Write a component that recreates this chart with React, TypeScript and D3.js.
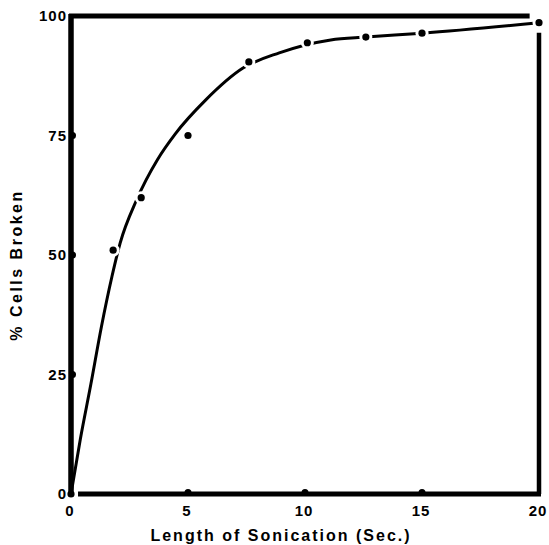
import React from "react";
import * as d3 from "d3";

const pointX = [0, 1.8, 3.0, 5.0, 7.6, 10.1, 12.6, 15.0, 20];
const pointY = [0, 51, 62, 75, 90.4, 94.4, 95.6, 96.4, 98.6];

const curveX = [0, 0.4, 0.85, 1.3, 1.75, 2.1, 2.8, 3.7, 4.45, 5.75, 7.35, 8.9, 11.1, 12.6, 15.0, 20];
const curveY = [0, 11.5, 23, 35, 45.5, 52.5, 61.5, 70, 75.3, 82.4, 89.1, 92.3, 95, 95.6, 96.4, 98.6];

const xTicks = [0, 5, 10, 15, 20];
const yTicks = [0, 25, 50, 75, 100];
const xTitle = "Length of Sonication  (Sec.)";
const yTitle = "%  Cells Broken";

const W = 549;
const H = 545;

export default function App() {
  const x = d3.scaleLinear().domain([0, 20]).range([71, 539]);
  const y = d3.scaleLinear().domain([0, 100]).range([494, 16]);
  const line = d3
    .line<number>()
    .x((_, i) => x(curveX[i]))
    .y((_, i) => y(curveY[i]))
    .curve(d3.curveMonotoneX);
  const font = "'Liberation Sans', Arial, sans-serif";
  return (
    <svg
      width={W}
      height={H}
      style={{ position: "absolute", left: 0, top: 0, background: "#fff" }}
      fontFamily={font}
    >
      <rect x={0} y={0} width={W} height={H} fill="#fff" />
      {/* frame */}
      <line x1={x(0)} y1={y(100) - 2} x2={x(0)} y2={y(0)} stroke="#000" strokeWidth={5.5} />
      <line x1={x(0) - 2} y1={y(100)} x2={x(19.6)} y2={y(100)} stroke="#000" strokeWidth={5} />
      <line x1={x(20)} y1={y(96.5)} x2={x(20)} y2={y(0)} stroke="#000" strokeWidth={4.5} />
      <line x1={x(0.3)} y1={y(0)} x2={x(20) + 2} y2={y(0)} stroke="#000" strokeWidth={5} />
      {/* tick dots */}
      {yTicks.slice(1, 4).map((t) => (
        <circle key={"yt" + t} cx={x(0) + 1.5} cy={y(t)} r={3.5} fill="#000" />
      ))}
      {xTicks.slice(1, 4).map((t) => (
        <circle key={"xt" + t} cx={x(t)} cy={y(0) - 1.5} r={3.5} fill="#000" />
      ))}
      {/* curve */}
      <path d={line(curveX) || ""} fill="none" stroke="#000" strokeWidth={3} />
      {/* points with halo */}
      {pointX.map((v, i) => (
        <circle key={"h" + i} cx={x(v)} cy={y(pointY[i])} r={i === 0 ? 0 : 6.5} fill="#fff" />
      ))}
      {pointX.map((v, i) => (
        <circle key={"p" + i} cx={x(v)} cy={y(pointY[i])} r={3.6} fill="#000" />
      ))}
      {/* y tick labels */}
      {yTicks.map((t) => (
        <text
          key={"yl" + t}
          x={67}
          y={y(t)}
          dy="0.36em"
          textAnchor="end"
          fontSize={15}
          fontWeight="bold"
          letterSpacing={1}
        >
          {t}
        </text>
      ))}
      {/* x tick labels */}
      {xTicks.map((t) => (
        <text
          key={"xl" + t}
          x={x(t) - 1}
          y={516}
          textAnchor="middle"
          fontSize={15}
          fontWeight="bold"
          letterSpacing={1}
        >
          {t}
        </text>
      ))}
      <text
        x={281}
        y={541}
        textAnchor="middle"
        fontSize={16}
        fontWeight="bold"
        letterSpacing={2}
      >
        {xTitle}
      </text>
      <text
        transform={`translate(22,265) rotate(-90)`}
        textAnchor="middle"
        fontSize={16}
        fontWeight="bold"
        letterSpacing={2.5}
      >
        {yTitle}
      </text>
    </svg>
  );
}
